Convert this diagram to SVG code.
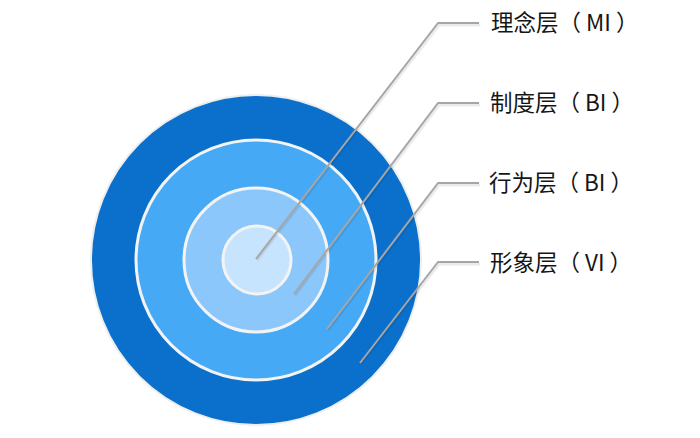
<svg xmlns="http://www.w3.org/2000/svg" width="700" height="438" viewBox="0 0 700 438">
<style>
.ring{stroke:#f3f3f3;stroke-width:3}
.conn{fill:none;stroke:#a6a6a6;stroke-width:2;stroke-linejoin:round}
.shadow{fill:none;stroke:#000;stroke-opacity:0.08;stroke-width:3}
.lbl{font-family:"Noto Sans CJK SC","Noto Sans",sans-serif;font-size:22.5px;fill:#151515}
</style>
<rect width="700" height="438" fill="#fff"/>
<g id="layer-vi"><circle cx="256" cy="260" r="165" fill="#0a70cc" stroke="#eeeeee" stroke-width="2"/></g>
<g id="layer-bi2"><circle cx="256" cy="260" r="120" fill="#45a9f5" class="ring"/></g>
<g id="layer-bi1"><circle cx="256" cy="260" r="72" fill="#8bc7fb" class="ring"/></g>
<g id="layer-mi"><circle cx="257" cy="260" r="34" fill="#c6e4fe" class="ring"/></g>
<g id="connectors">
<polyline class="shadow" points="256,259 438,24 479,24" transform="translate(1,1)"/>
<polyline class="shadow" points="294,294 438,104 479,104" transform="translate(1,1)"/>
<polyline class="shadow" points="327,329 438,184 479,184" transform="translate(1,1)"/>
<polyline class="shadow" points="360,363 438,263 479,263" transform="translate(1,1)"/>
<polyline class="conn" points="256,259 438,23 479,23"/>
<polyline class="conn" points="294,294 438,103 479,103"/>
<polyline class="conn" points="327,329 438,183 479,183"/>
<polyline class="conn" points="360,363 438,262 479,262"/>
</g>
<g id="label-mi"><text class="lbl" x="491" y="31">理念层（ MI ）</text></g>
<g id="label-bi1"><text class="lbl" x="490" y="111">制度层（ BI ）</text></g>
<g id="label-bi2"><text class="lbl" x="489" y="191">行为层（ BI ）</text></g>
<g id="label-vi"><text class="lbl" x="490" y="271">形象层（ VI ）</text></g>
</svg>
